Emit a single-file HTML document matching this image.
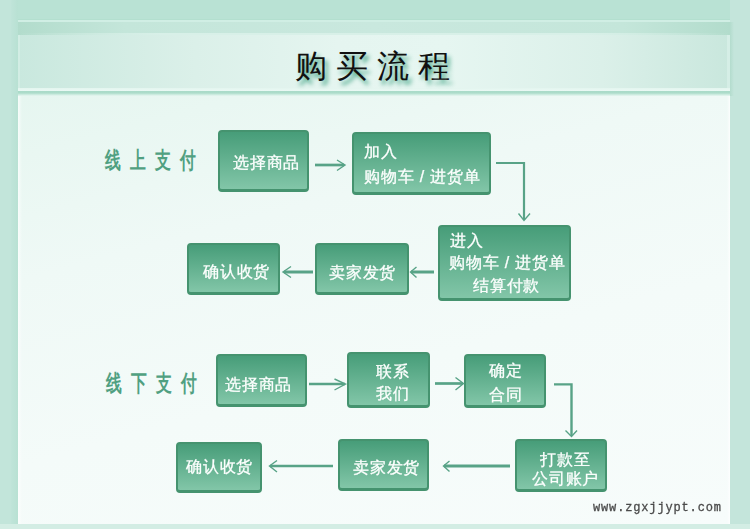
<!DOCTYPE html>
<html><head><meta charset="utf-8">
<style>
html,body{margin:0;padding:0;}
body{width:750px;height:529px;position:relative;overflow:hidden;background:#c2e5da;font-family:"Liberation Sans",sans-serif;}
.abs{position:absolute;}
#topband{left:11px;top:0;width:719px;height:20px;background:#b9e2d4;}
#lstrip{left:11px;top:0;width:7px;height:529px;background:linear-gradient(90deg,#c0e4d9,#b8e1d3);}
#panel{left:18px;top:20px;width:712px;height:504px;background:#eaf7f2;}
#pl1{left:18px;top:19px;width:712px;height:3px;background:linear-gradient(#b3dfcf 0,#b3dfcf 1px,#d0eee4 1px);}
#pband{left:18px;top:22px;width:712px;height:13px;background:linear-gradient(90deg,#b2dccc 0%,#c4e6da 15%,#c9e8de 50%,#c4e6da 85%,#b2dccc 100%);}
#pbandl{left:18px;top:33px;width:712px;height:2px;background:linear-gradient(90deg,rgba(216,240,232,0) 0%,rgba(216,240,232,1) 20%,rgba(216,240,232,1) 80%,rgba(216,240,232,0) 100%);}
#hleft{left:18px;top:35px;width:2px;height:54px;background:#d2ede4;}
#rshadow{left:730px;top:22px;width:4px;height:74px;background:linear-gradient(90deg,#b3dccd,#c4e5db);}
#hright{left:727px;top:35px;width:3px;height:54px;background:#d5eee6;}
#header{left:18px;top:35px;width:712px;height:54px;background:linear-gradient(90deg,#c9e8de 0%,#dbf0e9 25%,#e5f5f0 45%,#e6f6f1 60%,#dbf0e9 82%,#c9e7dd 100%);}
#hl1{left:18px;top:88px;width:712px;height:3px;background:linear-gradient(#e3f5ef,#eaf9f4);}
#hl2{left:18px;top:91px;width:712px;height:5px;background:linear-gradient(#a9dbc9 0,#acdcca 2px,#d6efe6 4px,#e6f6f0 5px);}
#body{left:18px;top:96px;width:712px;height:428px;background:linear-gradient(165deg,#e6f6f0 0%,#eff9f6 30%,#f4fbf9 60%,#f7fcfb 100%);}
#bbot{left:0;top:524px;width:750px;height:5px;background:#d3ede4;}
#rstrip{left:730px;top:0;width:20px;height:529px;background:#c4e5db;}
#rline{left:727px;top:96px;width:3px;height:428px;background:linear-gradient(90deg,rgba(255,255,255,0),rgba(255,255,255,0.8));}
#lline{left:18px;top:96px;width:4px;height:428px;background:linear-gradient(90deg,rgba(255,255,255,0.7),rgba(255,255,255,0));}
.title{left:295px;top:46px;font-size:32px;line-height:40px;letter-spacing:9px;color:#111;font-weight:350;white-space:nowrap;text-shadow:3px 4px 4px rgba(40,150,115,0.85);}
.lab{font-size:23.3px;line-height:25px;font-weight:bold;color:#50a081;white-space:nowrap;letter-spacing:13.4px;transform-origin:0 0;transform:scaleX(0.687);}
.box{position:absolute;box-sizing:border-box;border:2px solid #45936f;border-bottom-width:3px;border-radius:4px;background:linear-gradient(#479d79,#82c6a8);}
.t{position:absolute;margin:0.6px 0 0 0.6px;color:#fff;font-size:16px;line-height:16px;letter-spacing:0.8px;white-space:nowrap;font-weight:500;-webkit-text-stroke:0.25px #f4fbf8;text-shadow:0 0 1px rgba(255,255,255,0.3);will-change:transform;}
.wm{left:593px;top:501px;font-family:"Liberation Mono",monospace;font-size:12px;letter-spacing:0.85px;line-height:14px;font-weight:normal;color:#4a4a4a;-webkit-text-stroke:0.3px #4a4a4a;white-space:nowrap;}
</style></head><body>
<div class="abs" id="topband"></div>
<div class="abs" id="lstrip"></div>
<div class="abs" id="rstrip"></div>
<div class="abs" id="panel"></div>
<div class="abs" id="pl1"></div>
<div class="abs" id="pband"></div>
<div class="abs" id="pbandl"></div>
<div class="abs" id="header"></div>
<div class="abs" id="hleft"></div>
<div class="abs" id="hright"></div>
<div class="abs" id="rshadow"></div>
<div class="abs" id="hl1"></div>
<div class="abs" id="hl2"></div>
<div class="abs" id="body"></div>
<div class="abs" id="bbot"></div>
<div class="abs" id="rline"></div>
<div class="abs" id="lline"></div>

<div class="abs title">购买流程</div>

<div class="abs lab" style="left:104.7px;top:147.8px;">线上支付</div>
<div class="abs lab" style="left:106px;top:370.5px;">线下支付</div>

<!-- top row -->
<div class="box" style="left:218px;top:130px;width:91px;height:62px;"></div>
<div class="t" style="left:232px;top:154px;">选择商品</div>

<div class="box" style="left:352px;top:132px;width:139px;height:63px;"></div>
<div class="t" style="left:363px;top:143px;">加入</div>
<div class="t" style="left:363px;top:168px;">购物车 / 进货单</div>

<div class="box" style="left:438px;top:225px;width:133px;height:76px;"></div>
<div class="t" style="left:449px;top:232px;">进入</div>
<div class="t" style="left:448px;top:254px;">购物车 / 进货单</div>
<div class="t" style="left:472px;top:277px;">结算付款</div>

<div class="box" style="left:315px;top:243px;width:94px;height:52px;"></div>
<div class="t" style="left:328px;top:264px;">卖家发货</div>

<div class="box" style="left:187px;top:243px;width:93px;height:52px;"></div>
<div class="t" style="left:202px;top:263px;">确认收货</div>

<!-- bottom row -->
<div class="box" style="left:216px;top:354px;width:91px;height:53px;"></div>
<div class="t" style="left:224px;top:376px;">选择商品</div>

<div class="box" style="left:347px;top:352px;width:83px;height:56px;"></div>
<div class="t" style="left:375px;top:363px;">联系</div>
<div class="t" style="left:375px;top:385px;">我们</div>

<div class="box" style="left:464px;top:354px;width:82px;height:54px;"></div>
<div class="t" style="left:488px;top:362px;">确定</div>
<div class="t" style="left:488px;top:386px;">合同</div>

<div class="box" style="left:515px;top:439px;width:92px;height:53px;"></div>
<div class="t" style="left:539px;top:451px;">打款至</div>
<div class="t" style="left:531px;top:470px;">公司账户</div>

<div class="box" style="left:338px;top:439px;width:91px;height:52px;"></div>
<div class="t" style="left:352px;top:459px;">卖家发货</div>

<div class="box" style="left:176px;top:442px;width:86px;height:51px;"></div>
<div class="t" style="left:185px;top:458px;">确认收货</div>

<svg class="abs" style="left:0;top:0" width="750" height="529" viewBox="0 0 750 529">
<g stroke="#58a387" fill="none" stroke-linecap="butt">
 <!-- A1 -->
 <line x1="315" y1="165" x2="344" y2="165" stroke-width="2.7"/>
 <polyline points="337,160 345,165 337,170.5" stroke-width="1.4"/>
 <!-- C1 -->
 <polyline points="496,163 524,163 524,220" stroke-width="2.2"/>
 <polyline points="518.5,213.5 524,220.5 530,213.5" stroke-width="1.4"/>
 <!-- A2 -->
 <line x1="411" y1="272" x2="434" y2="272" stroke-width="3"/>
 <polyline points="416.5,267 410.5,272 416.5,277.5" stroke-width="1.4"/>
 <!-- A3 -->
 <line x1="284" y1="272" x2="313" y2="272" stroke-width="3"/>
 <polyline points="291,266.5 283,272 291,277.5" stroke-width="1.4"/>
 <!-- A4 -->
 <line x1="309" y1="384" x2="345" y2="384" stroke-width="2.5"/>
 <polyline points="334.5,379 345.5,384 334.5,390" stroke-width="1.4"/>
 <!-- A5 -->
 <line x1="435" y1="383.5" x2="463" y2="383.5" stroke-width="2.7"/>
 <polyline points="455.5,377.5 463.5,383.5 455.5,390" stroke-width="1.4"/>
 <!-- C2 -->
 <polyline points="554,384.4 571.5,384.4 571.5,436" stroke-width="2.4"/>
 <polyline points="565.5,430.5 571.5,436.5 577,430.5" stroke-width="1.4"/>
 <!-- A6 -->
 <line x1="444" y1="466" x2="510" y2="466" stroke-width="2.8"/>
 <polyline points="449.5,461 443.5,466 449.5,471.5" stroke-width="1.4"/>
 <!-- A7 -->
 <line x1="270" y1="466" x2="333" y2="466" stroke-width="2.7"/>
 <polyline points="277,460.5 269.5,466 277,472" stroke-width="1.4"/>
</g>
</svg>

<div class="abs wm">www.zgxjjypt.com</div>
</body></html>
